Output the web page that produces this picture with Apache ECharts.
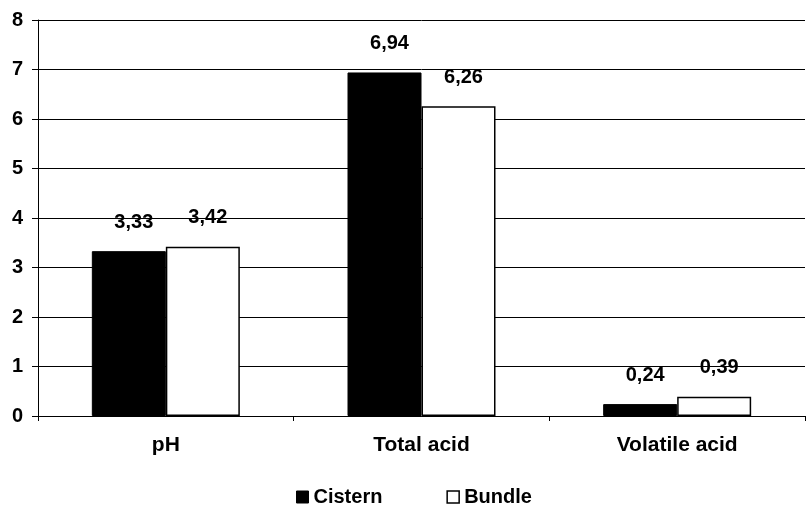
<!DOCTYPE html>
<html><head><meta charset="utf-8">
<script src="https://cdn.jsdelivr.net/npm/echarts@6/dist/echarts.min.js"></script>
<style>html,body{margin:0;padding:0;background:#fff}#c{width:806px;height:508px}</style>
</head><body><div id="c"></div>
<script>
const categories = ['pH', 'Total acid', 'Volatile acid'];
const cistern = [3.33, 6.94, 0.24];
const bundle = [3.42, 6.26, 0.39];
const yTicks = [0, 1, 2, 3, 4, 5, 6, 7, 8];

const font = '"Liberation Sans", Arial, sans-serif';
const fmt = p => p.value.toFixed(2).replace('.', ',');
const labelStyle = {show: true, position: 'top', distance: 19, offset: [5, 0], formatter: fmt,
  fontFamily: font, fontWeight: 'bold', fontSize: 20, color: '#000'};

const chart = echarts.init(document.getElementById('c'));
chart.setOption({
  animation: false,
  grid: {left: 38, right: 1, top: 20, bottom: 92},
  legend: {
    top: 482, left: 291, itemWidth: 12, itemHeight: 12, itemGap: 64,
    textStyle: {fontFamily: font, fontWeight: 'bold', fontSize: 20, color: '#000'},
    data: [
      {name: 'Cistern', icon: 'rect', itemStyle: {color: '#000', borderColor: '#000', borderWidth: 1}},
      {name: 'Bundle', icon: 'rect', itemStyle: {color: '#fff', borderColor: '#000', borderWidth: 1.5}}
    ]
  },
  xAxis: {
    type: 'category', data: categories,
    axisLine: {lineStyle: {color: '#000', width: 1}},
    axisTick: {show: true, length: 5, alignWithLabel: false, lineStyle: {color: '#000'}},
    axisLabel: {margin: 19, fontFamily: font, fontWeight: 'bold', fontSize: 21, color: '#000'}
  },
  yAxis: {
    type: 'value', min: yTicks[0], max: yTicks[yTicks.length - 1], interval: 1,
    axisLine: {show: true, lineStyle: {color: '#000', width: 1}},
    axisTick: {show: true, length: 6, lineStyle: {color: '#000'}},
    splitLine: {show: true, lineStyle: {color: '#000', width: 1}},
    axisLabel: {margin: 15, fontFamily: font, fontWeight: 'bold', fontSize: 20, color: '#000'}
  },
  series: [
    {name: 'Cistern', type: 'bar', data: cistern, barWidth: 74, barGap: '0%',
     itemStyle: {color: '#000', borderColor: '#000', borderWidth: 1}, label: labelStyle},
    {name: 'Bundle', type: 'bar', data: bundle, barWidth: 74,
     itemStyle: {color: '#fff', borderColor: '#000', borderWidth: 1.5}, label: labelStyle}
  ]
});
</script></body></html>
